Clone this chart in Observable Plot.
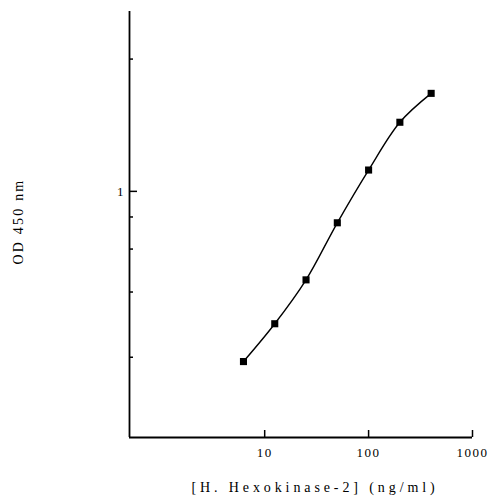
<!DOCTYPE html>
<html>
<head>
<meta charset="utf-8">
<script src="https://cdn.jsdelivr.net/npm/d3@7"></script>
<script src="https://cdn.jsdelivr.net/npm/@observablehq/plot@0.6"></script>
<style>
  html, body { margin: 0; padding: 0; background: #fff; }
  svg text { font-family: "Liberation Serif", "Times New Roman", serif; fill: #000; }
</style>
</head>
<body>
<div id="chart"></div>
<script>
// Concentration (ng/ml)
const concentration = [6.25, 12.5, 25, 50, 100, 200, 400];
// OD 450 nm
const od = [0.19, 0.29, 0.45, 0.76, 1.2, 1.79, 2.27];
const xTicks = [10, 100, 1000];
const yMajorTicks = [1];
const yMinorTicks = [0.2, 0.4, 0.6, 0.8, 3];
const xDomain = [0.5, 1000];
const yDomain = [0.06, 4.4];
const xLabel = "[H. Hexokinase-2] (ng/ml)";
const yLabel = "OD 450 nm";

const data = concentration.map((c, i) => ({c, od: od[i]}));

const chart = Plot.plot({
  width: 491,
  height: 499,
  marginLeft: 129,
  marginRight: 19,
  marginTop: 11,
  marginBottom: 62,
  style: {fontFamily: "Liberation Serif, serif", fontSize: "13px", background: "#fff", overflow: "visible"},
  x: {type: "log", domain: xDomain},
  y: {type: "symlog", constant: 0.1, domain: yDomain},
  marks: [
    Plot.axisX(xTicks, {tickSize: -7, tickPadding: 17, tickFormat: d => String(d), label: null, strokeWidth: 1.5, fontSize: 13}),
    Plot.axisY(yMajorTicks, {tickSize: -8, tickPadding: 14, tickFormat: d => String(d), label: null, strokeWidth: 1.5, fontSize: 13}),
    Plot.axisY(yMinorTicks, {tickSize: -4, text: null, label: null, strokeWidth: 1.5}),
    Plot.ruleX([xDomain[0]], {stroke: "#000", strokeWidth: 1.8}),
    Plot.ruleY([yDomain[0]], {stroke: "#000", strokeWidth: 1.8}),
    Plot.line(data, {x: "c", y: "od", curve: "catmull-rom", stroke: "#000", strokeWidth: 1.4}),
    Plot.dot(data, {x: "c", y: "od", symbol: "square", r: 4, fill: "#000", stroke: null}),
    Plot.text([xLabel], {text: d => d, frameAnchor: "bottom", textAnchor: "middle", lineAnchor: "middle", dx: 14, dy: 50, fontSize: 14}),
    Plot.text([yLabel], {text: d => d, frameAnchor: "left", textAnchor: "middle", lineAnchor: "middle", rotate: -90, dx: -111, dy: -3, fontSize: 14})
  ]
});
document.getElementById("chart").appendChild(chart);
// letter spacing as in the reference typesetting
d3.select(chart).selectAll('g[aria-label="x-axis tick label"] text').style("letter-spacing", "1.5px");
const labels = d3.select(chart).selectAll('g[aria-label="text"] text');
labels.filter(function() { return this.textContent === xLabel; }).style("letter-spacing", "3.9px");
labels.filter(function() { return this.textContent === yLabel; }).style("letter-spacing", "2.2px");
</script>
</body>
</html>
